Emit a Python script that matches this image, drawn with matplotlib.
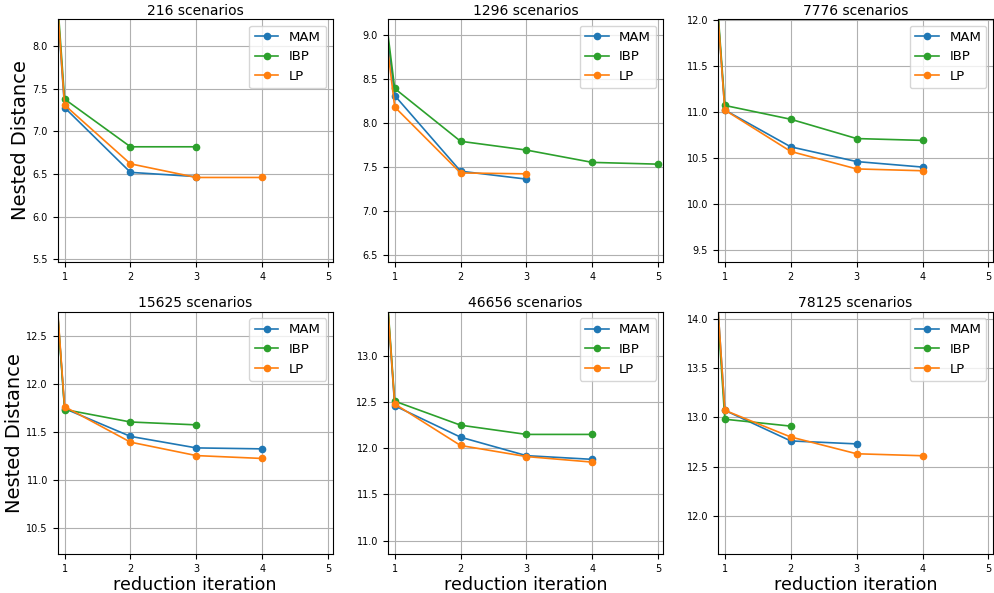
import numpy as np
import matplotlib
matplotlib.use("Agg")
import matplotlib.pyplot as plt

titles = ["216 scenarios", "1296 scenarios", "7776 scenarios",
          "15625 scenarios", "46656 scenarios", "78125 scenarios"]

# nested distance of the initial tree (iteration 0), same for all methods
start = [18.3, 14.4, 20.9, 21.3, 22.5, 23.0]

mam = [[7.28, 6.52, 6.47],
       [8.31, 7.45, 7.36],
       [11.02, 10.62, 10.46, 10.40],
       [11.74, 11.45, 11.33, 11.32],
       [12.46, 12.12, 11.92, 11.88],
       [13.07, 12.76, 12.73]]
ibp = [[7.38, 6.82, 6.82],
       [8.39, 7.79, 7.69, 7.55, 7.53],
       [11.07, 10.92, 10.71, 10.69],
       [11.73, 11.60, 11.57],
       [12.51, 12.25, 12.15, 12.15],
       [12.98, 12.91]]
lp = [[7.31, 6.62, 6.46, 6.46],
      [8.18, 7.43, 7.42],
      [11.02, 10.57, 10.38, 10.36],
      [11.76, 11.39, 11.25, 11.22],
      [12.48, 12.03, 11.91, 11.85],
      [13.07, 12.80, 12.63, 12.61]]

ylims = [(5.47, 8.32), (6.42, 9.18), (9.37, 12.01),
         (10.22, 12.75), (10.85, 13.48), (11.61, 14.07)]

fig, axes = plt.subplots(2, 3, figsize=(9.94, 5.93), dpi=100)
fig.subplots_adjust(left=0.058, right=0.999, top=0.968, bottom=0.065,
                    wspace=0.2, hspace=0.205)

for i, ax in enumerate(axes.flat):
    for vals, name, col in [(mam[i], "MAM", "tab:blue"),
                            (ibp[i], "IBP", "tab:green"),
                            (lp[i], "LP", "tab:orange")]:
        y = [start[i]] + vals
        ax.plot(range(len(y)), y, marker="o", color=col, label=name,
                lw=1.2, markersize=4.5)
    ax.set_xlim(0.895, 5.07)
    ax.set_ylim(*ylims[i])
    ax.set_xticks([1, 2, 3, 4, 5])
    ax.tick_params(labelsize=7)
    ax.grid(True)
    ax.set_title(titles[i], fontsize=10, pad=3)
    ax.legend(loc="upper right", fontsize=9.5, handlelength=1.8)

axes[0, 0].set_ylabel("Nested Distance", fontsize=14, labelpad=2)
axes[1, 0].set_ylabel("Nested Distance", fontsize=14, labelpad=2)
for ax in axes[1]:
    ax.set_xlabel("reduction iteration", fontsize=12.6, labelpad=1)

plt.savefig("out.png")
